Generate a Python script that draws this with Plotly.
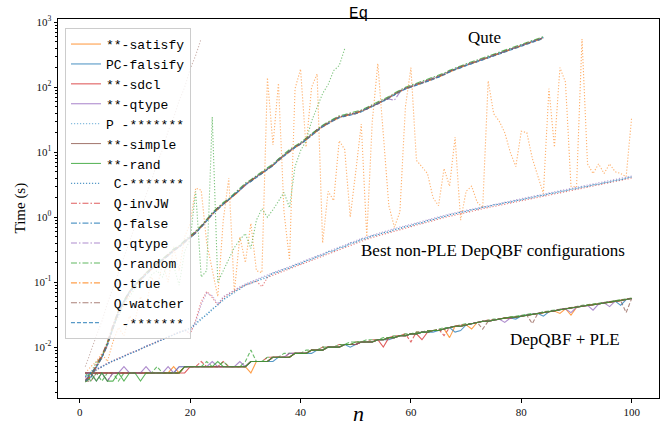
import plotly.graph_objects as go

# ---------------- data ----------------
n100 = list(range(1, 101))
n84 = list(range(1, 85))
n48 = list(range(1, 49))
n22 = list(range(1, 23))

# DepQBF + PLE runs (milliseconds)
ple_satisfy = [4,4,4,4,4,4,4,4,4,4, 4,4,4,4,4,4,5,4,5,5, 5,5,5,5,5,5,5,5,5,5,
               4,6,6,6,7,7,7,7,8,8, 8,9,9,9,10,10,10,11,11,11, 12,12,12,13,13,14,14,15,15,16,
               16,17,17,18,18,19,14,21,21,22, 19,24,25,25,26,27,28,28,29,30,
               31,32,33,34,35,36,33,39,31,41, 43,44,45,46,48,49,51,52,54,56]
ple_falsify = [4,4,4,4,4,4,4,4,4,4, 4,4,4,4,4,4,4,5,5,5, 5,5,5,5,5,5,5,5,5,5,
               6,6,6,6,6,7,7,7,8,8, 8,8,9,9,10,10,10,11,10,11, 12,12,12,13,13,13,14,15,15,16,
               16,17,17,17,18,19,20,17,18,22, 23,24,25,25,26,27,28,28,27,30,
               31,32,33,30,35,36,38,39,40,41, 43,44,45,46,48,49,51,44,54,56]
ple_sdcl = [4,4,4,4,4,4,4,4,4,4, 4,4,4,4,4,4,4,4,4,5, 5,5,5,5,5,5,5,5,5,5,
            6,6,6,6,7,7,7,7,8,8, 8,9,9,9,10,10,10,11,11,11, 12,12,12,13,10,14,14,15,15,16,
            16,13,17,18,18,19,20,21,21,22, 23,24,25,25,26,27,28,28,29,30,
            31,32,33,34,35,36,38,39,40,41, 43,44,45,46,48,49,51,52,54,56]
ple_qtype = [4,4,3,4,3,4,4,5,4,4, 4,5,4,4,4,5,4,5,5,5, 5,5,5,6,5,5,5,5,6,5,
             6,6,6,6,7,7,7,8,8,8, 8,9,9,9,10,10,10,11,11,11, 12,12,12,13,13,14,14,15,15,16,
             16,17,17,18,18,19,20,21,21,22, 23,24,25,25,26,27,24,28,29,30,
             31,32,33,34,35,36,38,39,34,41, 43,44,37,46,48,42,51,52,54,56]
ple_simple = [4,4,4,4,4,4,4,4,4,4, 4,4,4,4,4,4,4,4,5,5, 5,5,5,5,5,5,5,5,5,5,
              6,6,6,6,7,7,7,7,8,8, 8,9,9,9,10,10,10,11,11,11, 12,12,12,13,13,14,14,15,15,16,
              16,17,17,18,18,19,20,21,21,22, 23,24,25,25,26,27,28,28,29,30,
              31,32,33,34,35,36,38,39,40,41, 43,44,45,46,48,49,51,52,54,56]
ple_rand = [3,4,3,4,3,3,4,3,4,4, 3,4,4,4,4,4,4,4,5,5, 5,5,5,5,6,5,5,5,5,5,
            6,6,6,6,7,7,7,7,8,8, 8,9,9,9,10,10,10,11,11,12, 12,12,12,13,13,14,14,15,15,16,
            16,17,17,18,18,19,20,21,21,22, 23,24,25,25,26,27,28,29,29,30,
            31,32,33,34,35,36,38,39,40,41, 43,44,45,46,48,49,51,52,54,56]
ple_d_brown = [3,3,4,4,3,4,4,4,4,4, 4,4,4,4,4,4,4,4,5,5, 5,5,5,5,5,5,5,5,5,5,
               6,6,6,6,7,7,7,7,8,8, 8,9,9,9,10,10,10,11,11,11, 12,12,12,13,13,14,14,15,15,16,
               16,17,17,18,18,19,20,21,21,22, 23,24,19,25,26,27,28,28,29,30,
               31,23,33,34,35,36,38,39,40,41, 43,44,45,46,48,49,51,52,34,56]
ple_d_red = [4,4,4,4,4,4,4,4,4,4, 4,4,4,4,4,4,4,4,5,5, 5,6,5,5,5,6,5,5,5,5,
             6,6,6,7,7,7,7,8,8,8, 8,9,9,10,10,10,11,11,11,12, 12,12,13,13,13,14,15,15,16,12,
             17,17,18,18,19,15,20,21,22,22, 23,24,25,26,26,27,28,29,29,30,
             31,32,33,34,35,37,38,39,40,42, 43,44,45,47,48,50,51,53,55,57]
ple_d_green = [4,3,4,3,4,4,3,4,4,4, 4,4,4,5,4,4,4,4,5,5, 5,5,6,5,5,6,5,5,5,6,
               9,6,6,7,7,7,8,8,8,8, 9,9,9,10,10,10,11,11,12,12, 12,13,13,13,14,14,15,15,16,16,
               17,17,18,18,19,20,20,21,22,23, 23,24,25,26,27,27,28,29,30,31,
               32,33,33,35,36,37,38,40,41,42, 44,45,46,47,49,50,52,53,55,57]

# Qute runs (seconds)
q_invjw = [0.003,0.0035,0.0055,0.0075,0.012,0.022,0.036,0.05,0.068,0.092,
           0.11,0.14,0.16,0.2,0.22,0.27,0.3,0.36,0.43,0.5,
           0.6,0.72,0.92,1.1,1.4,1.6,1.9,2.2,2.7,3.1,
           3.7,4.2,4.9,5.4,6.4,7.5,9.1,10.3,12.2,13.3,
           16.1,18.3,22.4,24.6,28.6,31,35.4,36,38.6,39.2,
           43.5,46,52.3,55.2,62.9,68,79,86,97,101,
           112,115,128,133,148,156,177,187,208,216,
           238,248,274,284,315,326,362,375,415,431,
           477,494,548,567]
q_false = [0.003,0.004,0.005,0.0068,0.011,0.019,0.034,0.052,0.072,0.088,
           0.112,0.132,0.165,0.186,0.225,0.255,0.32,0.345,0.43,0.48,
           0.57,0.73,0.87,1.15,1.32,1.64,1.82,2.25,2.55,3.25,
           3.55,4.3,4.7,5.6,6.2,7.8,8.7,10.7,11.8,13.8,
           15.5,19,21.5,25.5,27.5,32.2,34,37,37.2,40.6,
           41.8,47.7,50.3,57.1,60.5,70.4,76,88.7,93.6,104,
           108,119,124,138,142,161,171,194,200,223,
           230,256,264,294,303,338,348,388,399,446,
           459,511,526,586]
q_qtype = [0.0032,0.0036,0.0048,0.007,0.0105,0.021,0.033,0.049,0.071,0.093,
           0.108,0.137,0.158,0.193,0.218,0.262,0.305,0.355,0.41,0.5,
           0.59,0.7,0.9,1.13,1.37,1.57,1.87,2.17,2.63,3.15,
           3.65,4.15,4.85,5.45,6.35,7.5,9.0,10.4,12.1,13.4,
           16,18.4,22.1,24.8,28.3,31.3,35,36,38.4,39.4,
           43.1,46.3,51.8,55.4,62.3,66,63,84,96.5,101,
           111,116,127,134,146,156,176,188,206,217,
           236,248,272,285,312,328,359,376,411,432,
           473,496,542,570]
q_random = [0.0029,0.0034,0.0052,0.0073,0.0115,0.021,0.037,0.052,0.073,0.094,
            0.115,0.14,0.168,0.197,0.23,0.27,0.325,0.365,0.44,0.51,
            0.61,0.74,0.93,1.17,1.41,1.68,1.93,2.3,2.72,3.35,
            3.76,4.4,5.02,5.75,6.6,7.9,9.3,11,12.5,14.1,
            16.5,19.4,22.9,26.1,29.3,33,36.3,37.9,39.7,41.6,
            44.6,48.9,53.6,58.5,64.5,72.1,81.1,90.9,99.8,107,
            115,122,132,141,152,165,182,199,213,229,
            245,262,281,301,323,346,371,397,425,457,
            489,524,561,601]
q_true = [0.003,0.0035,0.005,0.0069,0.0108,0.0195,0.0345,0.048,0.069,0.089,
          0.109,0.133,0.157,0.188,0.216,0.257,0.308,0.346,0.415,0.485,
          0.575,0.7,0.88,1.1,1.33,1.58,1.83,2.17,2.57,3.16,
          3.55,4.15,4.74,5.43,6.22,7.5,8.8,10.4,11.8,13.3,
          15.6,18.3,21.6,24.7,27.6,31.2,34.2,35.8,37.5,39.3,
          42.1,46.2,50.6,55.3,60.9,68.1,76.6,85.9,94.3,101,
          109,115,124,133,143,156,172,188,201,216,
          231,248,266,284,305,327,350,375,402,431,
          462,495,530,568]
q_watcher = [0.0031,0.0036,0.0051,0.0071,0.0112,0.0205,0.0355,0.051,0.0715,0.091,
             0.111,0.136,0.162,0.192,0.222,0.263,0.313,0.354,0.424,0.495,
             0.585,0.717,0.9,1.13,1.36,1.62,1.87,2.22,2.63,3.23,
             3.64,4.24,4.85,5.56,6.36,7.68,8.99,10.6,12.1,13.6,
             16,18.8,22.1,25.3,28.3,31.9,35,36.7,38.4,40.2,
             43.1,47.3,51.8,56.6,62.3,69.7,78.4,87.9,96.5,103,
             111,118,127,136,146,160,176,192,206,221,
             236,254,272,291,312,334,359,384,411,441,
             473,506,542,581]
q_star = [0.003,0.0034,0.0049,0.0069,0.0107,0.0196,0.0343,0.049,0.0686,0.088,
          0.108,0.132,0.157,0.186,0.216,0.255,0.304,0.343,0.412,0.48,
          0.568,0.696,0.872,1.1,1.32,1.57,1.81,2.16,2.55,3.14,
          3.53,4.12,4.7,5.39,6.17,7.45,8.72,10.3,11.8,13.2,
          15.5,18.2,21.5,24.5,27.4,31,34,35.6,37.2,39,
          41.8,45.9,50.3,54.9,60.5,67.6,76,85.3,93.6,100,
          108,115,123,132,142,155,171,186,200,215,
          229,246,264,282,303,324,348,372,399,428,
          459,491,526,564]

# best non-PLE DepQBF configurations (seconds)
np_c = [0.0035,0.004,0.0046,0.0049,0.0056,0.0061,0.0065,0.0073,0.0078,0.0086,
        0.0092,0.0104,0.0109,0.0122,0.0129,0.0144,0.0153,0.017,0.0178,0.0198,
        0.022,0.028,0.031,0.039,0.044,0.055,0.06,0.072,0.078,0.092,
        0.095,0.104,0.112,0.118,0.138,0.142,0.158,0.163,0.184,0.19,
        0.215,0.222,0.25,0.258,0.296,0.302,0.342,0.35,0.4,0.41,
        0.46,0.47,0.52,0.53,0.58,0.59,0.65,0.67,0.72,0.74,
        0.8,0.82,0.89,0.92,0.99,1.02,1.1,1.12,1.2,1.22,
        1.31,1.33,1.43,1.45,1.55,1.57,1.68,1.69,1.8,1.83,
        1.95,1.99,2.13,2.16,2.31,2.34,2.5,2.53,2.7,2.74,
        2.92,2.96,3.16,3.2,3.4,3.45,3.7,3.75,4.0,4.15]
np_p = [0.0036,0.0041,0.0044,0.0051,0.0054,0.0062,0.0067,0.0071,0.008,0.0084,
        0.0095,0.01,0.0112,0.0118,0.0132,0.014,0.0157,0.0166,0.0182,0.0192,
        0.024,0.026,0.033,0.037,0.046,0.052,0.064,0.068,0.082,0.088,
        0.1,0.105,0.117,0.124,0.137,0.146,0.157,0.168,0.182,0.196,
        0.212,0.23,0.247,0.266,0.292,0.31,0.337,0.36,0.392,0.42,
        0.452,0.48,0.512,0.54,0.572,0.6,0.642,0.68,0.712,0.75,
        0.792,0.83,0.882,0.93,0.982,1.03,1.082,1.13,1.182,1.24,
        1.292,1.35,1.412,1.47,1.532,1.59,1.652,1.71,1.782,1.85,
        1.932,2.01,2.1,2.19,2.28,2.37,2.46,2.56,2.66,2.77,
        2.88,3.0,3.12,3.24,3.36,3.5,3.65,3.8,3.95,4.2]
np_red = [0.0034,0.0039,0.0045,0.005,0.0057,0.006,0.0068,0.0072,0.0081,0.0085,
          0.0094,0.0101,0.0113,0.0119,0.0133,0.014,0.0158,0.0165,0.0183,0.016,
          0.026,0.05,0.072,0.058,0.044,0.058,0.066,0.074,0.082,0.09,
          0.096,0.104,0.085,0.118,0.128,0.138,0.148,0.16,0.172,0.186,
          0.2,0.218,0.235,0.254,0.277,0.296,0.32,0.344,0.373,0.4,
          0.43,0.458,0.487,0.516,0.545,0.574,0.612,0.65,0.68,0.717,
          0.755,0.793,0.842,0.889,0.937,0.985,1.03,1.08,1.13,1.19,
          1.23,1.29,1.35,1.41,1.46,1.52,1.58,1.63,1.7,1.77,
          1.85,1.92,2.01,2.09,2.18,2.27,2.35,2.45,2.54,2.65,
          2.75,2.87,2.98,3.1,3.21,3.35,3.49,3.63,3.78,4.0]
np_purple = [0.0035,0.0041,0.0046,0.0051,0.0056,0.0062,0.0066,0.0074,0.0079,0.0087,
             0.0093,0.0105,0.011,0.0124,0.013,0.0146,0.0155,0.0173,0.018,0.0165,
             0.024,0.045,0.068,0.062,0.046,0.06,0.067,0.076,0.085,0.094,
             0.102,0.11,0.12,0.13,0.14,0.151,0.161,0.174,0.187,0.203,
             0.218,0.237,0.255,0.276,0.301,0.322,0.348,0.374,0.405,0.436,
             0.468,0.499,0.53,0.561,0.592,0.624,0.665,0.707,0.738,0.78,
             0.82,0.86,0.91,0.96,1.01,1.07,1.12,1.17,1.22,1.29,
             1.34,1.4,1.46,1.53,1.59,1.65,1.71,1.78,1.85,1.92,
             2.0,2.09,2.18,2.28,2.37,2.46,2.56,2.66,2.77,2.88,
             3.0,3.12,3.24,3.37,3.49,3.64,3.8,3.95,4.11,4.3]

# other non-PLE configurations (seconds)
np_orange = [0.004,0.005,0.006,0.008,0.006,0.012,0.02,0.015,0.03,0.025,
             0.06,0.04,0.12,0.08,0.2,0.1,0.35,0.15,0.5,0.8,
             2.8,2.6,0.4,0.15,0.06,0.9,4.0,0.07,0.5,0.2,
             0.8,0.15,0.14,140,13,115,1.2,0.22,95,190,
             12,100,160,0.4,2.5,1.8,15,11,1.0,5,
             27,0.5,30,230,20,1.5,0.7,1.2,50,200,
             7.5,6,4.7,2,1.5,5.6,3,17,0.9,2.5,
             3,1.7,1.4,125,39,30,20,10,6,21,
             20,8,4.1,2.3,95,12,200,120,3,2.9,
             550,6.6,4.7,6.6,4.7,6.6,5,4.7,4.2,35]
np_green = [0.003,0.004,0.006,0.007,0.012,0.02,0.03,0.045,0.06,0.08,
            0.1,0.09,0.13,0.15,0.12,0.2,0.18,0.09,0.3,0.45,
            2.5,0.12,0.15,35,0.1,0.15,0.22,0.34,0.45,0.56,
            0.33,0.9,1.35,1.0,1.3,1.8,2.4,1.4,6,10.5,
            15,30,50,80,110,180,215,390]
np_brown = [0.005,0.009,0.015,0.025,0.047,0.08,0.14,0.23,0.42,0.7,
            1.3,2.2,3.7,6.8,11,21,34,62,100,190,
            310,560]

ytick_vals = [1e-2, 1e-1, 1e0, 1e1, 1e2, 1e3]
ytick_text = ["10<sup>-2</sup>", "10<sup>-1</sup>", "10<sup>0</sup>",
              "10<sup>1</sup>", "10<sup>2</sup>", "10<sup>3</sup>"]
xtick_vals = [0, 20, 40, 60, 80, 100]

# ---------------- styling ----------------
BLUE, ORANGE, GREEN = "#1f77b4", "#ff7f0e", "#2ca02c"
RED, PURPLE, BROWN = "#d62728", "#9467bd", "#8c564b"
DASH = "4px,2px"
DASHDOT = "6px,2px,1.5px,2px"
DOT = "1.2px,1.8px"
NB = "\u00a0"

fig = go.Figure()


def add(x, y, name, color, dash, opacity, show=True, width=1.1):
    fig.add_trace(go.Scatter(x=x, y=y, mode="lines", name=name, showlegend=show,
                             line=dict(color=color, dash=dash, width=width),
                             opacity=opacity, hoverinfo="skip"))


def ms(lst):
    return [v / 1000 for v in lst]


# unlabeled background runs
add(n100, np_orange, "o", ORANGE, DOT, 0.6, False)
add(n48, np_green, "g", GREEN, DOT, 0.6, False)
add(n22, np_brown, "b", BROWN, DOT, 0.45, False)
add(n100, np_red, "r", RED, DOT, 0.6, False)
add(n100, np_purple, "p", PURPLE, DOT, 0.6, False)
add(n100, ms(ple_d_brown), "db", BROWN, DASH, 0.7, False)
add(n100, ms(ple_d_red), "dr", RED, DASH, 0.7, False)
add(n100, ms(ple_d_green), "dg", GREEN, DASH, 0.7, False)

# labeled runs (legend order)
add(n100, ms(ple_satisfy), "**-satisfy", ORANGE, "solid", 0.75)
add(n100, ms(ple_falsify), "PC-falsify", BLUE, "solid", 0.75)
add(n100, ms(ple_sdcl), "**-sdcl", RED, "solid", 0.75)
add(n100, ms(ple_qtype), "**-qtype", PURPLE, "solid", 0.75)
add(n100, np_p, "P" + NB + "-*******", "#6baed6", DOT, 0.8)
add(n100, ms(ple_simple), "**-simple", BROWN, "solid", 0.75)
add(n100, ms(ple_rand), "**-rand", GREEN, "solid", 0.75)
add(n100, np_c, NB + "C-*******", BLUE, DOT, 0.75)
add(n84, q_invjw, NB + "Q-invJW", RED, DASHDOT, 0.75)
add(n84, q_false, NB + "Q-false", BLUE, DASHDOT, 0.75)
add(n84, q_qtype, NB + "Q-qtype", PURPLE, DASHDOT, 0.75)
add(n84, q_random, NB + "Q-random", GREEN, DASHDOT, 0.75)
add(n84, q_true, NB + "Q-true", ORANGE, DASHDOT, 0.75)
add(n84, q_watcher, NB + "Q-watcher", BROWN, DASHDOT, 0.75)
add(n84, q_star, NB + NB + "-*******", BLUE, DASH, 0.75)

serif = "Liberation Serif"
mono = "Liberation Mono"

axis_common = dict(showline=True, linecolor="black", linewidth=1, mirror=True,
                   showgrid=False, zeroline=False, ticks="outside", ticklen=3.5,
                   tickwidth=0.8, tickcolor="black", automargin=False,
                   tickfont=dict(family=serif, size=11, color="#111"))

minor_vals = [m * 10 ** e for e in range(-3, 3) for m in range(2, 10)]

fig.update_layout(
    width=665, height=426,
    margin=dict(l=58, r=6, t=19, b=28, autoexpand=False),
    paper_bgcolor="white", plot_bgcolor="white",
    title=dict(text="Eq", x=0.5, xref="paper", xanchor="center",
               y=1 - 12 / 426, yref="container", yanchor="middle",
               font=dict(family=mono, size=16, color="black")),
    xaxis=dict(range=[-3.95, 104.95], tickmode="array", tickvals=xtick_vals,
               **axis_common),
    yaxis=dict(type="log", range=[-2.783, 3.05], tickmode="array",
               tickvals=ytick_vals, ticktext=ytick_text,
               minor=dict(tickmode="array", tickvals=minor_vals, ticks="outside",
                          ticklen=2, tickwidth=0.6, tickcolor="black", showgrid=False),
               **axis_common),
    legend=dict(x=0.0116, y=0.976, xanchor="left", yanchor="top",
                bgcolor="rgba(255,255,255,0.8)", bordercolor="#cccccc", borderwidth=1,
                font=dict(family=mono, size=13, color="black"),
                itemwidth=30, tracegroupgap=0),
    showlegend=True,
)

ann_font = dict(family=serif, size=17, color="black")
fig.add_annotation(x=73.3, y=2.77, xref="x", yref="y", text="Qute",
                   showarrow=False, font=ann_font, xanchor="center", yanchor="middle")
fig.add_annotation(x=74.8, y=-0.52, xref="x", yref="y",
                   text="Best non-PLE DepQBF configurations",
                   showarrow=False, font=ann_font, xanchor="center", yanchor="middle")
fig.add_annotation(x=87.9, y=-1.89, xref="x", yref="y", text="DepQBF + PLE",
                   showarrow=False, font=ann_font, xanchor="center", yanchor="middle")
fig.add_annotation(x=0.5, y=-(413 - 398) / 379, xref="paper", yref="paper",
                   text="<i>n</i>", showarrow=False,
                   font=dict(family=serif, size=22, color="black"),
                   xanchor="center", yanchor="middle")
fig.add_annotation(x=-(58 - 20) / 601, y=0.5, xref="paper", yref="paper",
                   text="Time (s)", textangle=-90, showarrow=False,
                   font=dict(family=serif, size=15, color="black"),
                   xanchor="center", yanchor="middle")

fig.write_html("out.html", config={"displayModeBar": False},
               post_script="document.body.style.margin='0';document.body.style.padding='0';")
